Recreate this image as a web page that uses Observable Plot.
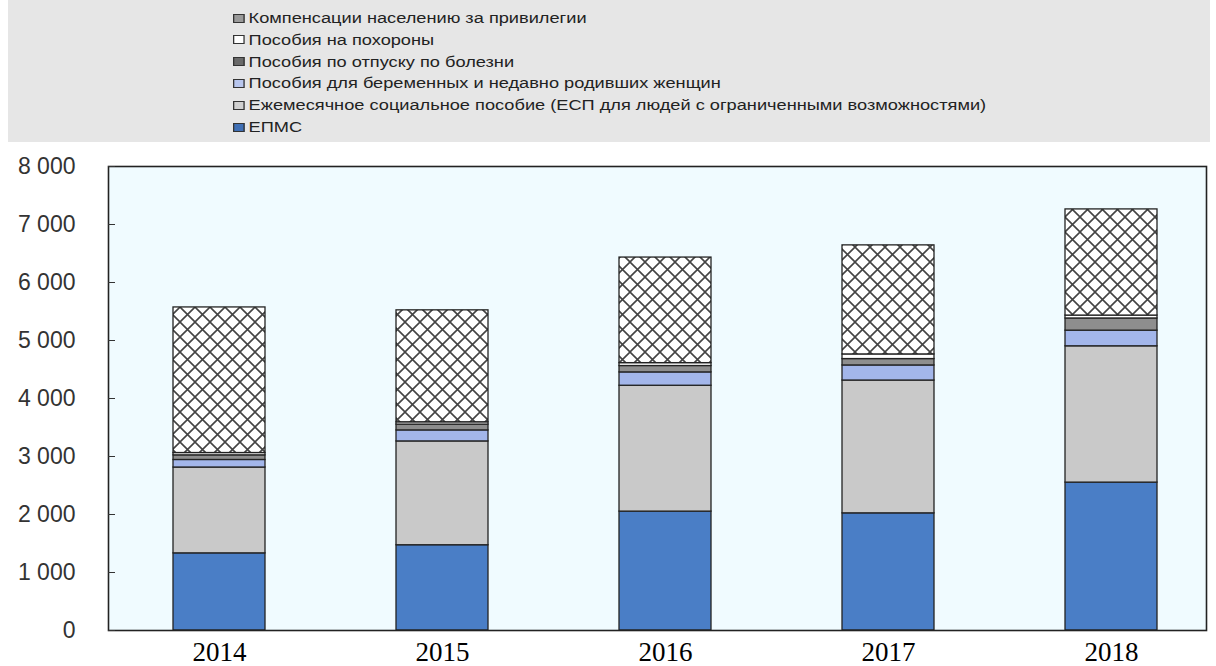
<!DOCTYPE html>
<html>
<head>
<meta charset="utf-8">
<script src="https://cdn.jsdelivr.net/npm/d3@7"></script>
<script src="https://cdn.jsdelivr.net/npm/@observablehq/plot@0.6"></script>
<style>
  html, body { margin: 0; padding: 0; background: #fff; }
  #wrap { position: relative; width: 1216px; height: 666px; overflow: hidden; }
  #legend { position: absolute; left: 8px; top: 0; width: 1202px; height: 142px; background: #e6e6e6; }
  .item { position: absolute; left: 225px; height: 20px; display: flex; align-items: center;
          font-family: "Liberation Sans", Arial, sans-serif; font-size: 14px; color: #222;
          white-space: nowrap; transform-origin: left center; }
  .sw { width: 7px; height: 7px; border: 1.5px solid #333; margin-right: 3px; flex: none; }
  #chart { position: absolute; left: 0; top: 142px; }
</style>
</head>
<body>
<div id="wrap">
  <div id="legend"></div>
  <div id="chart"></div>
</div>
<script>
const years = ["2014", "2015", "2016", "2017", "2018"];
const seriesNames = [
  "ЕПМС",
  "Ежемесячное социальное пособие (ЕСП для людей с ограниченными возможностями)",
  "Пособия для беременных и недавно родивших женщин",
  "Пособия по отпуску по болезни",
  "Пособия на похороны",
  "Компенсации населению за привилегии"
];
const epms         = [1330, 1470, 2050, 2020, 2550];
const esp          = [1480, 1790, 2170, 2290, 2350];
const pregnant     = [130, 190, 230, 260, 270];
const sickLeave    = [80, 100, 110, 110, 210];
const funeral      = [40, 40, 50, 80, 50];
const compensation = [2510, 1930, 1820, 1880, 1830];
const yTicks = [0, 1000, 2000, 3000, 4000, 5000, 6000, 7000, 8000];

const seriesValues = [epms, esp, pregnant, sickLeave, funeral, compensation];
const fills = ["#4a7ec6", "#c9c9c9", "#a3b6ea", "#8e8e8e", "#ffffff", "url(#hatch)"];
const swatchFills = ["#3f6fb5", "#d0d0d0", "#b8c6ee", "#6a6a6a", "#ffffff", "#9a9a9a"];

const data = [];
seriesNames.forEach((s, i) => years.forEach((y, j) => data.push({year: y, series: s, value: seriesValues[i][j]})));

// Legend (top to bottom = reverse stacking order)
const legend = document.getElementById("legend");
const order = [5, 4, 3, 2, 1, 0];
order.forEach((idx, k) => {
  const d = document.createElement("div");
  d.className = "item";
  d.style.top = (8 + k * 21.8) + "px";
  d.style.transform = "scaleX(1.3)";
  const sw = document.createElement("span");
  sw.className = "sw";
  sw.style.background = swatchFills[idx];
  d.appendChild(sw);
  d.appendChild(document.createTextNode(seriesNames[idx]));
  legend.appendChild(d);
});

const fmt = d => d3.format(",")(d).replace(/,/g, " ");

const chart = Plot.plot({
  width: 1216,
  height: 524,
  marginLeft: 108,
  marginRight: 10,
  marginTop: 24,
  marginBottom: 36,
  x: {domain: years, range: [107.5, 1222.5], paddingInner: 0.587, paddingOuter: 0.2935},
  y: {domain: [0, 8000]},
  color: {domain: seriesNames, range: fills},
  marks: [
    Plot.frame({fill: "#f0fbff", stroke: "none"}),
    Plot.barY(data, {x: "year", y: "value", fill: "series", stroke: "#222", strokeWidth: 1.3}),
    Plot.frame({stroke: "#222", strokeWidth: 1.6}),
    Plot.axisY({ticks: yTicks, tickSize: -7, text: null, label: null, stroke: "#333"}),
    Plot.axisY({ticks: yTicks, tickSize: 0, tickPadding: 33, tickFormat: fmt,
                fontSize: 23, fontFamily: "Liberation Sans, Arial, sans-serif", fill: "#333", label: null}),
    Plot.axisX({tickSize: 0, tickPadding: 11, fontSize: 27, fontFamily: "Liberation Serif, Times New Roman, serif",
                fill: "#000", label: null})
  ]
});

// hatch pattern
const ns = "http://www.w3.org/2000/svg";
const defs = document.createElementNS(ns, "defs");
const pat = document.createElementNS(ns, "pattern");
pat.setAttribute("id", "hatch");
pat.setAttribute("patternUnits", "userSpaceOnUse");
pat.setAttribute("width", "15");
pat.setAttribute("height", "15");
pat.innerHTML = '<rect width="15" height="15" fill="#ffffff"/>' +
  '<path d="M0,0L15,15M15,0L0,15M-1,14L1,16M14,-1L16,1M14,16L16,14M-1,1L1,-1" stroke="#444" stroke-width="1.6"/>';
defs.appendChild(pat);
chart.insertBefore(defs, chart.firstChild);

document.getElementById("chart").appendChild(chart);
</script>
</body>
</html>
